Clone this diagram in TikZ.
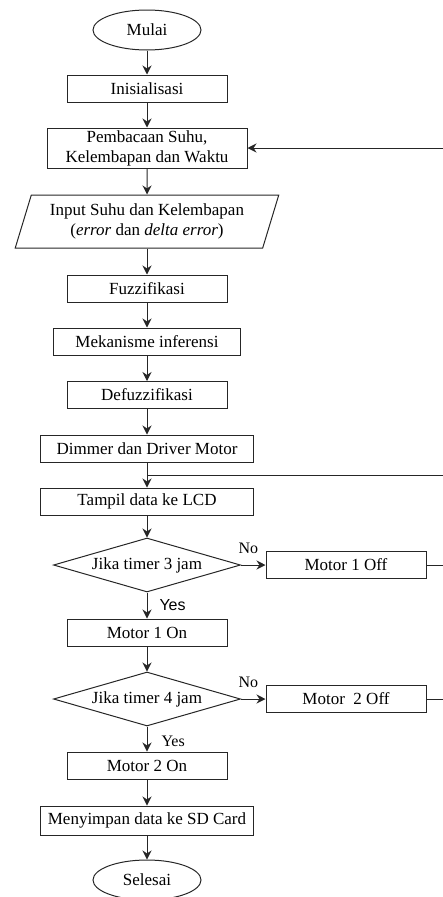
\documentclass[tikz,border=0pt]{standalone}
\usepackage{fontspec}
\setmainfont{Liberation Serif}
\newfontfamily\labelsans{Liberation Sans}
\usetikzlibrary{shapes.geometric,positioning,arrows.meta,calc}

\begin{document}
\begin{tikzpicture}[x=1pt,y=-1pt,>={Stealth[length=9pt,width=9pt]},on grid,
  line width=1pt,draw=black!85,
  every node/.style={font=\fontsize{17}{20}\selectfont},
  proc/.style={draw,rectangle,minimum width=160pt,minimum height=27pt,inner sep=1pt,align=center},
  term/.style={draw,ellipse,minimum width=108pt,minimum height=40pt,inner sep=0pt},
  io/.style={draw,trapezium,trapezium left angle=70,trapezium right angle=110,
    trapezium stretches=true,minimum width=264pt,minimum height=53pt,inner sep=1pt,align=center},
  decision/.style={draw,diamond,minimum width=187pt,minimum height=54pt,inner sep=0pt,aspect=3.4},
  flow/.style={->}]
  \useasboundingbox (0,0) rectangle (443,897);
  \clip (0,0) rectangle (443,897);

  \node[term] (mulai) at (147,30) {Mulai};
  \node[proc] (init) [below=58.5pt of mulai] {Inisialisasi};
  \node[proc,minimum width=200pt,minimum height=40pt] (baca) [below=59.5pt of init]
    {Pembacaan Suhu,\\Kelembapan dan Waktu};
  \node[io] (input) [below=73.5pt of baca]
    {Input Suhu dan Kelembapan\\(\textit{error} dan \textit{delta error})};
  \node[proc] (fuzz) [below=67pt of input] {Fuzzifikasi};
  \node[proc,minimum width=187pt] (infer) [below=53pt of fuzz] {Mekanisme inferensi};
  \node[proc] (defuzz) [below=53.5pt of infer] {Defuzzifikasi};
  \node[proc,minimum width=213pt] (driver) [below=53.5pt of defuzz] {Dimmer dan Driver Motor};
  \node[proc,minimum width=213pt] (lcd) [below=53pt of driver] {Tampil data ke LCD};
  \node[decision] (cek3) [below=63.5pt of lcd] {Jika timer 3 jam};
  \node[proc] (m1off) [right=199pt of cek3] {Motor 1 Off};
  \node[proc] (m1on) [below=67.5pt of cek3] {Motor 1 On};
  \node[decision] (cek4) [below=66.5pt of m1on] {Jika timer 4 jam};
  \node[proc] (m2off) [right=199pt of cek4] {Motor\ \ 2 Off};
  \node[proc] (m2on) [below=66.5pt of cek4] {Motor 2 On};
  \node[proc,minimum width=213pt,minimum height=29pt] (simpan) [below=55pt of m2on]
    {Menyimpan data ke SD Card};
  \node[term] (selesai) [below=59.5pt of simpan] {Selesai};

  % titik temu umpan balik
  \coordinate (gabung) at ($(driver.south)!0.5!(lcd.north)$);

  \draw[flow] (mulai) -- (init);
  \draw[flow] (init) -- (baca);
  \draw[flow] (baca) -- (input);
  \draw[flow] (input) -- (fuzz);
  \draw[flow] (fuzz) -- (infer);
  \draw[flow] (infer) -- (defuzz);
  \draw[flow] (defuzz) -- (driver);
  \draw[flow] (driver) -- (lcd);
  \draw[flow] (lcd) -- (cek3);
  \draw[flow] (cek3) -- node[pos=0.3,above=11pt,inner sep=0pt,font=\fontsize{16}{18}\selectfont]{No} (m1off);
  \draw[flow] (cek3) -- node[right=12pt,inner sep=0pt,font=\labelsans\fontsize{16}{18}\selectfont]{Yes} (m1on);
  \draw[flow] (m1on) -- (cek4);
  \draw[flow] (cek4) -- node[pos=0.3,above=11pt,inner sep=0pt,font=\fontsize{16}{18}\selectfont]{No} (m2off);
  \draw[flow] (cek4) -- node[right=14pt,pos=0.6,inner sep=0pt,font=\fontsize{16}{18}\selectfont]{Yes} (m2on);
  \draw[flow] (m2on) -- (simpan);
  \draw[flow] (simpan) -- (selesai);

  % kembali ke atas (terpotong di tepi kanan)
  \draw (m1off.east) -- ++(30pt,0) |- (gabung);
  \draw[flow] (m2off.east) -- ++(34pt,0) |- (baca.east);
\end{tikzpicture}
\end{document}
